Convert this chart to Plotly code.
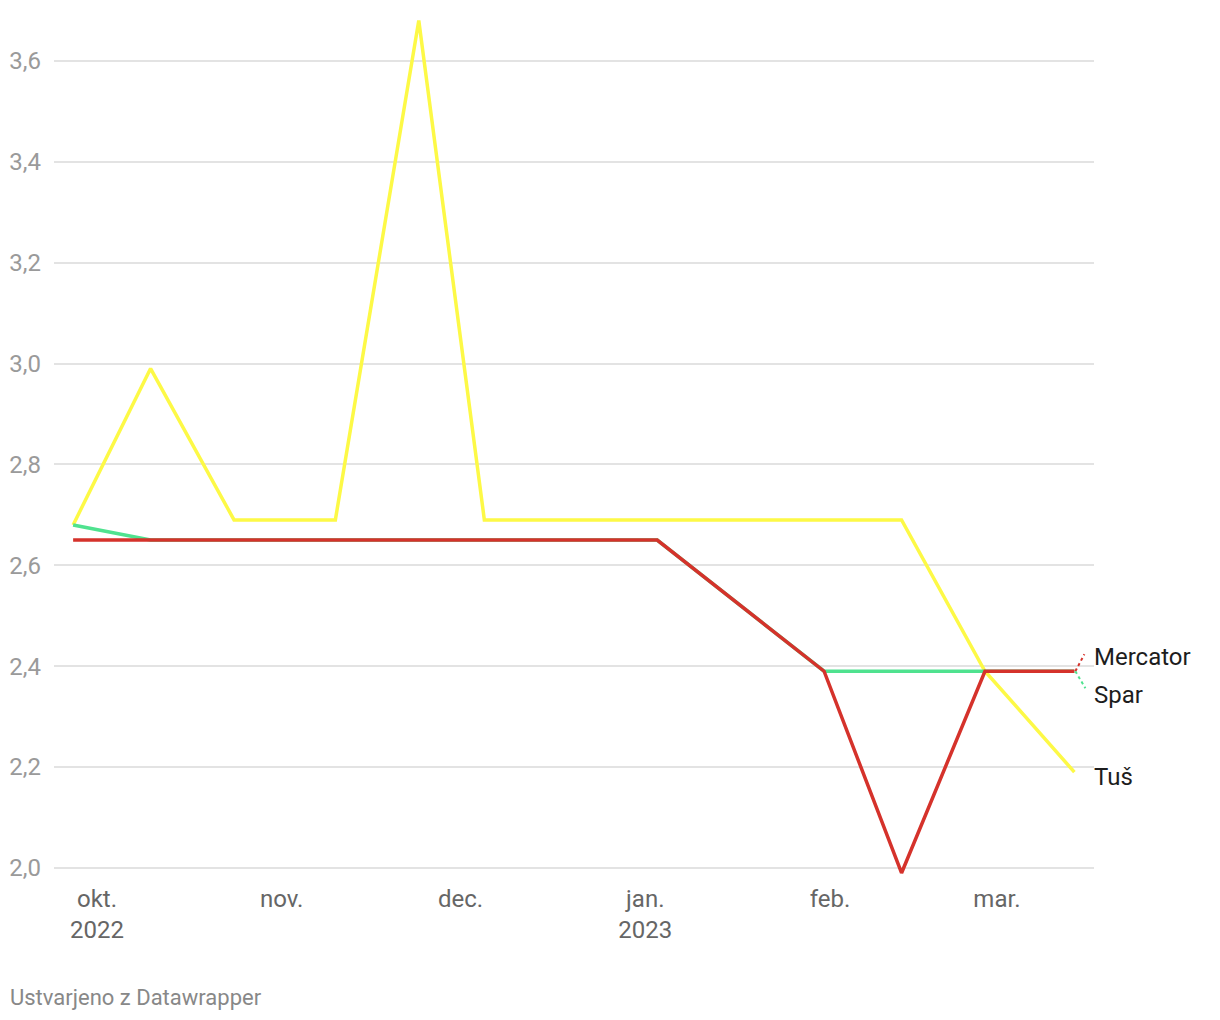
import plotly.graph_objects as go

dates = ["2022-09-27", "2022-10-10", "2022-10-24", "2022-11-10", "2022-11-24",
         "2022-12-05", "2023-01-03", "2023-01-31", "2023-02-13", "2023-02-27", "2023-03-14"]
tus = [2.68, 2.99, 2.69, 2.69, 3.68, 2.69, 2.69, 2.69, 2.69, 2.39, 2.19]
spar = [2.68, 2.65, 2.65, 2.65, 2.65, 2.65, 2.65, 2.39, 2.39, 2.39, 2.39]
mercator = [2.65, 2.65, 2.65, 2.65, 2.65, 2.65, 2.65, 2.39, 1.99, 2.39, 2.39]

x_tickvals = ["2022-10-01", "2022-11-01", "2022-12-01", "2023-01-01", "2023-02-01", "2023-03-01"]
x_ticktext = ["okt.<br>2022", "nov.", "dec.", "jan.<br>2023", "feb.", "mar."]
y_tickvals = [2.0, 2.2, 2.4, 2.6, 2.8, 3.0, 3.2, 3.4, 3.6]
y_ticktext = ["2,0", "2,2", "2,4", "2,6", "2,8", "3,0", "3,2", "3,4", "3,6"]

C_TUS = "#fdf946"
C_SPAR = "#4fe28f"
C_MERC = "#d5322b"

fig = go.Figure()
fig.add_trace(go.Scatter(x=dates, y=tus, mode="lines", name="Tuš",
                         line=dict(color=C_TUS, width=3.5)))
fig.add_trace(go.Scatter(x=dates, y=spar, mode="lines", name="Spar",
                         line=dict(color=C_SPAR, width=3.5)))
fig.add_trace(go.Scatter(x=dates, y=mercator, mode="lines", name="Mercator",
                         line=dict(color=C_MERC, width=3.5)))

font = "Roboto, sans-serif"
last = dates[-1]

annotations = [
    dict(x=last, y=mercator[-1], text="Mercator", xshift=18, yshift=14),
    dict(x=last, y=spar[-1], text="Spar", xshift=18, yshift=-24),
    dict(x=last, y=tus[-1], text="Tuš", xshift=18, yshift=-5),
]
for a in annotations:
    a.update(xref="x", yref="y", showarrow=False, xanchor="left", yanchor="middle",
             font=dict(family=font, size=24, color="#1d1d1d"))

annotations.append(dict(xref="paper", yref="paper", x=-46 / 1040, y=-(989 - 867) / 860,
                        xanchor="left", yanchor="middle", showarrow=False,
                        text="Ustvarjeno z Datawrapper",
                        font=dict(family=font, size=22, color="#888888")))

shapes = [
    dict(type="line", xref="x", yref="y", xsizemode="pixel", ysizemode="pixel",
         xanchor=last, yanchor=mercator[-1], x0=1, x1=10, y0=0, y1=17,
         line=dict(color=C_MERC, width=2, dash="dot")),
    dict(type="line", xref="x", yref="y", xsizemode="pixel", ysizemode="pixel",
         xanchor=last, yanchor=spar[-1], x0=1, x1=11, y0=0, y1=-17,
         line=dict(color=C_SPAR, width=2, dash="dot")),
]

fig.update_layout(
    width=1212, height=1012,
    margin=dict(l=46, r=126, t=7, b=145),
    paper_bgcolor="white", plot_bgcolor="white",
    showlegend=False,
    annotations=annotations,
    shapes=shapes,
    xaxis=dict(type="date", range=["2022-09-23 19:00", "2023-03-17 07:00"],
               tickvals=x_tickvals, ticktext=x_ticktext, showgrid=False,
               zeroline=False, showline=False, ticks="", ticklabelstandoff=7,
               automargin=False,
               tickfont=dict(family=font, size=24, color="#666666")),
    yaxis=dict(range=[1.986, 3.691], tickvals=y_tickvals, ticktext=y_ticktext,
               showgrid=True, gridcolor="#e3e3e3", gridwidth=2, zeroline=False,
               showline=False, ticks="", ticklabelstandoff=12, automargin=False,
               tickfont=dict(family=font, size=24, color="#9a9a9a")),
)

fig.write_html("out.html")
